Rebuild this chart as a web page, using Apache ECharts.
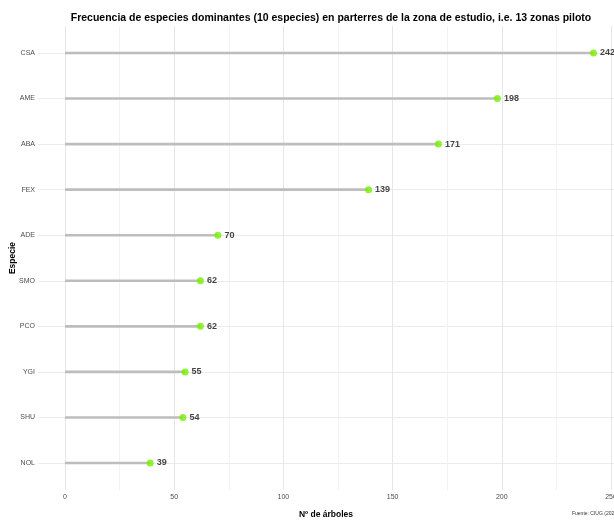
<!DOCTYPE html>
<html>
<head>
<meta charset="utf-8">
<script src="https://cdn.jsdelivr.net/npm/echarts@6/dist/echarts.min.js"></script>
<style>html,body{margin:0;padding:0;background:#fff}#c{width:614px;height:520px}</style>
</head>
<body>
<div id="c"></div>
<script>
const species = ['CSA','AME','ABA','FEX','ADE','SMO','PCO','YGI','SHU','NOL'];
const counts = [242,198,171,139,70,62,62,55,54,39];
const xTicks = [0,50,100,150,200,250];
const titleText = 'Frecuencia de especies dominantes (10 especies) en parterres de la zona de estudio, i.e. 13 zonas piloto';
const captionText = 'Fuente: CIUG (2023)';

const chart = echarts.init(document.getElementById('c'));
const FONT = 'Liberation Sans, Arial, sans-serif';
chart.setOption({
  animation: false,
  backgroundColor: '#ffffff',
  title: {
    text: titleText, left: 326, top: 8, textAlign: 'center',
    textStyle: {fontFamily: FONT, fontSize: 10.5, fontWeight: 'bold', color: '#000'}
  },
  graphic: [{
    type: 'text', left: 572, top: 511,
    style: {text: captionText, fontFamily: FONT, fontSize: 5, fill: '#333'}
  }],
  grid: [
    {left: 38, right: 0, top: 53, bottom: 57, outerBoundsMode: 'none', containLabel: false},
    {left: 65, right: 3, top: 26, bottom: 30, outerBoundsMode: 'none', containLabel: false}
  ],
  xAxis: [
    {gridIndex: 0, type: 'value', min: -12.36, max: 251.37,
     axisLine: {show: false}, axisTick: {show: false}, axisLabel: {show: false},
     splitLine: {show: false},
     name: 'Nº de árboles', nameLocation: 'middle', nameGap: 47, nameMoveOverlap: false,
     nameTextStyle: {fontFamily: FONT, fontSize: 8.5, fontWeight: 'bold', color: '#000'}},
    {gridIndex: 1, type: 'value', min: 0, max: 250, interval: 25,
     axisLine: {show: false}, axisTick: {show: false},
     axisLabel: {margin: 4, fontFamily: FONT, fontSize: 7, color: '#4d4d4d',
       formatter: v => xTicks.includes(v) ? String(v) : ''},
     splitLine: {show: true, lineStyle: {color: ['#e6e6e6','#f3f3f3'], width: 1}}}
  ],
  yAxis: [
    {gridIndex: 0, type: 'category', data: species, inverse: true, boundaryGap: false,
     axisLine: {show: false}, axisTick: {show: false},
     axisLabel: {margin: 3, fontFamily: FONT, fontSize: 7, color: '#4d4d4d'},
     splitLine: {show: true, lineStyle: {color: '#ebebeb', width: 1}},
     name: 'Especie', nameLocation: 'middle', nameGap: 21, nameRotate: 90, nameMoveOverlap: false,
     nameTextStyle: {fontFamily: FONT, fontSize: 8.5, fontWeight: 'bold', color: '#000'}},
    {gridIndex: 1, type: 'value', show: false}
  ],
  series: [
    {type: 'bar', xAxisIndex: 0, yAxisIndex: 0, data: counts, barWidth: 2.6,
     itemStyle: {color: '#bdbdbd'}, silent: true},
    {type: 'scatter', xAxisIndex: 0, yAxisIndex: 0, data: counts, symbolSize: 7,
     itemStyle: {color: '#76EE00'},
     label: {show: true, position: 'right', distance: 3, fontFamily: FONT, fontSize: 9,
       fontWeight: 'bold', color: '#111', formatter: p => p.value}}
  ]
});
</script>
</body>
</html>
